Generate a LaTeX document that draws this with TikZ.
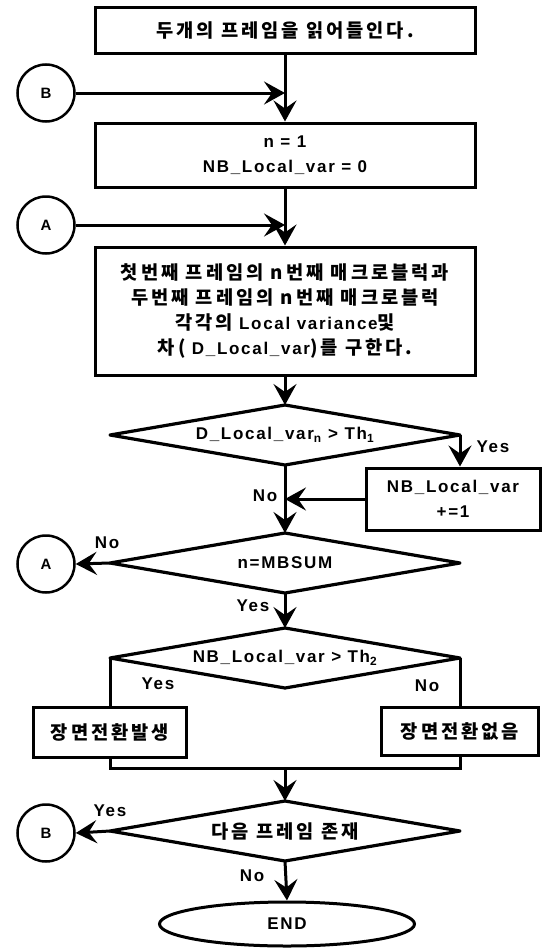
\documentclass[tikz,border=0pt]{standalone}
\usepackage{fontspec}
\setmainfont{Liberation Sans}[LetterSpace=10]
\newfontfamily\kr{Noto Sans CJK KR}[Scale=1.1,LetterSpace=16]
\usetikzlibrary{shapes.geometric,arrows.meta}
\begin{document}
\begin{tikzpicture}[x=1pt,y=-1pt,
  every node/.style={font=\bfseries\fontsize{17}{25}\selectfont, text=black, align=center},
  boxn/.style={draw, line width=3pt, rectangle, inner sep=0pt},
  dia/.style={draw, line width=3.2pt, line join=round, diamond, shape aspect=5.8, inner sep=1pt, outer sep=0pt, minimum width=350pt, minimum height=60pt},
  conn/.style={draw, circle, line width=2.5pt, minimum size=57pt, inner sep=0pt, font=\bfseries\fontsize{15}{15}\selectfont},
  arr/.style={line width=3pt, -{Stealth[length=21pt,width=23pt,inset=8pt]}},
  ln/.style={line width=3pt},
  lbl/.style={inner sep=0pt}
]
\fill[white] (0,0) rectangle (542,950);
\useasboundingbox (0,0) rectangle (542,950);

% boxes
\node[boxn, minimum width=380pt, minimum height=46pt] (b1) at (285,31) {\kr 두개의 프레임을 읽어들인다.};
\node[boxn, minimum width=380pt, minimum height=64pt] (b2) at (285,155) {n = 1\\NB\_Local\_var = 0};
\node[boxn, minimum width=380pt, minimum height=128pt] (b3) at (285,311)
  {{\kr 첫번째 프레임의 n번째 매크로블럭과}\\
   {\kr 두번째 프레임의 n번째 매크로블럭}\\
   {\kr 각각의} Local variance{\kr 및}\\
   {\kr 차(} D\_Local\_var{\kr )를 구한다.}};

% connector circles
\node[conn] (cB1) at (46,93) {B};
\node[conn] (cA1) at (46,225) {A};
\node[conn] (cA2) at (46,564) {A};
\node[conn] (cB2) at (46,833) {B};

% decisions
\node[dia] (d1) at (285,435) {D\_Local\_var\textsubscript{n} > Th\textsubscript{1}};
\node[dia] (d2) at (285,563) {n=MBSUM};
\node[dia] (d3) at (285,658) {NB\_Local\_var > Th\textsubscript{2}};
\node[dia] (d4) at (285,831) {\kr 다음 프레임 존재};

\node[boxn, minimum width=174pt, minimum height=62pt] (nb) at (453,499) {NB\_Local\_var\\+=1};
\node[boxn, minimum width=153pt, minimum height=50pt] (s1) at (110,732) {\kr 장면전환발생};
\node[boxn, minimum width=157pt, minimum height=48pt] (s2) at (460,731) {\kr 장면전환없음};

\node[draw, ellipse, line width=3pt, minimum width=255pt, minimum height=44pt, inner sep=0pt] (end) at (287,924) {END};

% flow
\draw[arr] (b1) -- (b2);
\draw[arr] (cB1) -- (cB1 -| b1.south);
\draw[arr] (b2) -- (b3);
\draw[arr] (cA1) -- (cA1 -| b2.south);
\draw[arr] (b3) -- (d1);
\draw[arr] (d1.east) -- (d1.east |- nb.north);
\draw[arr] (d1.south) -- (d2.north);
\draw[arr] (nb.west) -- (nb.west -| d1.south);
\draw[arr] (d2.west) -- (cA2.east);
\draw[arr] (d2.south) -- (d3.north);
\draw[ln] (d3.west) -- (d3.west |- s1.north);
\draw[ln] (d3.east) -- (d3.east |- s2.north);
\coordinate (m) at (285,768);
\draw[ln] (d3.west |- s1.south) -- (d3.west |- m) -- (d3.east |- m) -- (d3.east |- s2.south);
\draw[arr] (m) -- (d4.north);
\draw[arr] (d4.west) -- (cB2.east);
\draw[arr] (d4.south) -- (end.north);

% labels
\node[lbl] (y1) at (493,447) {Yes};
\node[lbl] (n1) at (265,496) {No};
\node[lbl] (n2) at (107,543) {No};
\node[lbl] (y2) at (253,606) {Yes};
\node[lbl] (y3) at (158,684) {Yes};
\node[lbl] (n3) at (427,686) {No};
\node[lbl] (y4) at (110,811) {Yes};
\node[lbl] (n4) at (252,876) {No};
\end{tikzpicture}
\end{document}
